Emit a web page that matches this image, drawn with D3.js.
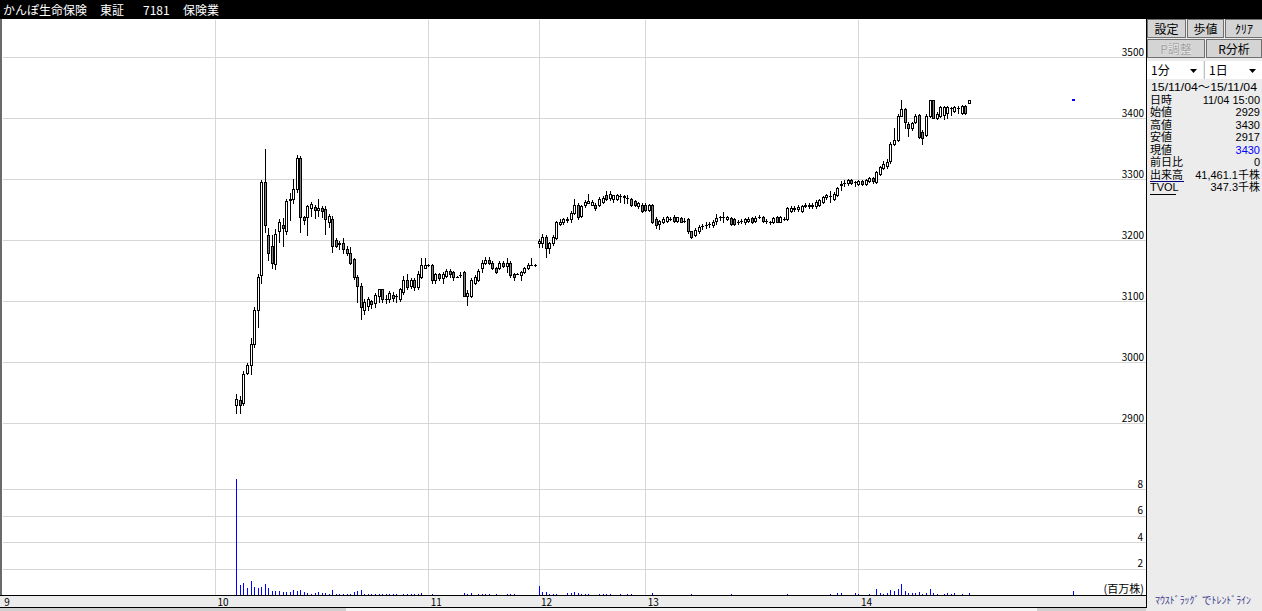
<!DOCTYPE html>
<html><head><meta charset="utf-8">
<script src="https://cdn.jsdelivr.net/npm/d3@7/dist/d3.min.js"></script>
<style>
html,body{margin:0;padding:0;background:#ececec;overflow:hidden;}
svg{display:block;}
text{font-family:"Noto Sans CJK JP","Noto Sans",sans-serif;}
text.info{font-family:"Liberation Sans","Noto Sans CJK JP",sans-serif;}
</style></head><body>
<svg id="c" width="1262" height="611"></svg>
<script>
// ---- data ----
const titleParts = ["かんぽ生命保険", "東証", "7181", "保険業"];
const firstSlot = 66;           // minute slot index counted from 9:00 (lunch break removed)
const opens = [
2929,2938,2932,2982,2995,3030,3085,3142,3295,3209,
3190,3160,3214,3225,3215,3266,3268,3283,3334,3238,
3238,3253,3254,3249,3253,3250,3229,3234,3200,3193,
3195,3186,3178,3169,3139,3125,3085,3091,3100,3096,
3108,3119,3104,3104,3110,3108,3104,3114,3134,3125,
3134,3123,3140,3154,3159,3159,3134,3144,3137,3141,
3149,3148,3140,3143,3148,3109,3109,3130,3134,3154,
3163,3168,3163,3154,3154,3163,3157,3163,3144,3145,
3142,3148,3154,3159,3159,
3195,3195,3205,3187,3195,3203,3226,3229,3232,3234,
3245,3258,3240,3257,3261,3258,3258,3258,3263,3274,
3269,3268,3268,3272,3270,3269,3267,3264,3255,3258,
3258,3249,3257,3235,3226,3230,3231,3235,3238,3231,
3236,3231,3234,3214,3208,3214,3223,3225,
3226,3224,3231,3237,3237,3234,3236,3234,3230,3231,
3229,3231,3236,3231,3238,3238,3231,3230,3230,3238,
3230,3235,3235,3248,3250,3250,3248,3256,3258,3255,
3255,3257,3262,3270,3272,3268,3273,
3290,3293,3293,3298,3295,3292,3297,3292,3297,3302,
3295,3309,3318,3322,3329,3358,3364,3404,3415,3390,
3383,3394,3405,3377,3372,3404,3429,3400,3404,3405,
3408,3416,3412,3417,3408,3420,3425];
const highs = [
2948,2945,2986,2998,3039,3090,3145,3298,3350,3219,
3208,3218,3234,3236,3268,3277,3300,3339,3337,3240,
3258,3262,3258,3268,3256,3255,3242,3240,3204,3198,
3204,3190,3189,3170,3143,3130,3103,3107,3102,3113,
3119,3120,3110,3117,3114,3112,3121,3141,3145,3137,
3137,3150,3170,3170,3160,3161,3146,3146,3147,3152,
3152,3150,3141,3148,3150,3118,3137,3142,3152,3167,
3172,3172,3165,3156,3166,3165,3170,3165,3146,3146,
3150,3156,3162,3170,3160,
3201,3210,3209,3197,3208,3231,3234,3236,3238,3247,
3268,3260,3257,3266,3275,3266,3260,3270,3272,3280,
3280,3274,3276,3275,3273,3274,3269,3266,3262,3260,
3260,3259,3259,3238,3233,3238,3240,3238,3241,3238,
3238,3236,3236,3215,3219,3224,3227,3229,
3230,3232,3242,3240,3246,3240,3238,3236,3233,3234,
3236,3237,3238,3239,3241,3240,3234,3231,3238,3240,
3240,3238,3254,3256,3256,3257,3257,3260,3260,3260,
3265,3267,3272,3276,3280,3278,3287,
3296,3298,3300,3300,3296,3299,3299,3300,3303,3304,
3313,3322,3330,3332,3360,3383,3406,3430,3416,3394,
3393,3406,3406,3380,3406,3430,3430,3410,3420,3420,
3420,3418,3420,3420,3422,3422,3430];
const lows = [
2917,2917,2930,2980,2980,3025,3058,3130,3213,3167,
3154,3153,3197,3190,3210,3232,3260,3279,3213,3226,
3208,3240,3236,3240,3238,3210,3222,3181,3188,3185,
3178,3175,3160,3136,3099,3070,3079,3085,3088,3090,
3098,3098,3096,3098,3100,3099,3100,3112,3120,3122,
3118,3120,3137,3154,3158,3129,3129,3134,3129,3139,
3140,3134,3139,3140,3108,3094,3107,3128,3132,3147,
3161,3160,3152,3146,3152,3155,3147,3140,3134,3144,
3135,3146,3152,3159,3158,
3189,3189,3172,3178,3192,3201,3224,3227,3229,3230,
3242,3235,3238,3254,3260,3257,3249,3256,3261,3266,
3266,3262,3266,3262,3260,3260,3256,3255,3253,3246,
3248,3247,3228,3219,3218,3228,3229,3232,3229,3229,
3229,3230,3212,3203,3206,3212,3218,3219,
3222,3222,3227,3233,3230,3232,3224,3224,3226,3228,
3227,3229,3228,3229,3236,3229,3228,3226,3228,3229,
3229,3232,3233,3246,3248,3248,3246,3254,3252,3253,
3253,3255,3260,3268,3262,3266,3272,
3282,3288,3290,3291,3289,3290,3290,3290,3295,3294,
3293,3307,3316,3318,3327,3356,3362,3403,3383,3370,
3380,3392,3367,3358,3370,3402,3400,3398,3402,3399,
3400,3405,3410,3408,3406,3406,3424];
const closes = [
2940,2929,2981,2995,3030,3085,3140,3295,3225,3178,
3163,3210,3229,3219,3264,3268,3283,3334,3238,3233,
3255,3259,3249,3253,3248,3234,3239,3190,3190,3195,
3185,3178,3163,3139,3125,3090,3099,3104,3095,3110,
3119,3104,3104,3113,3105,3108,3119,3134,3123,3134,
3123,3145,3159,3159,3159,3134,3144,3137,3145,3149,
3144,3139,3140,3143,3109,3113,3134,3140,3149,3163,
3168,3163,3154,3148,3163,3158,3163,3143,3139,3145,
3147,3154,3159,3159,3159,
3199,3205,3187,3195,3205,3230,3230,3234,3235,3245,
3258,3238,3255,3263,3264,3263,3252,3267,3269,3268,
3275,3273,3274,3272,3272,3269,3258,3257,3260,3248,
3249,3257,3230,3225,3231,3235,3238,3235,3231,3238,
3230,3231,3214,3205,3217,3221,3223,3225,
3226,3229,3236,3237,3237,3238,3226,3226,3230,3231,
3234,3235,3230,3236,3238,3231,3231,3230,3236,3230,
3238,3235,3252,3253,3253,3254,3255,3258,3255,3258,
3263,3265,3270,3274,3272,3276,3285,
3292,3293,3298,3293,3295,3297,3292,3298,3301,3296,
3311,3320,3325,3328,3358,3364,3404,3415,3394,3383,
3391,3404,3369,3367,3404,3429,3400,3406,3418,3418,
3418,3416,3418,3417,3420,3408,3430];
// volume in millions of shares
const volumes = [
8.73,0.75,0.91,0.53,1.06,0.60,0.55,0.63,0.83,0.53,
0.30,0.30,0.30,0.23,0.23,0.23,0.38,0.33,0.38,0.20,
0.15,0.10,0.15,0.23,0.15,0.15,0.10,0.38,0.10,0.08,
0.08,0.08,0.08,0.23,0.30,0.38,0.08,0.08,0.08,0.08,
0.08,0.08,0.08,0.08,0.08,0.08,0,0.08,0.08,0.08,
0.08,0.08,0.18,0,0,0.08,0,0,0,0,
0,0,0,0,0.13,0.08,0.13,0,0.08,0.08,
0.08,0.08,0,0.08,0,0,0.08,0.08,0.08,0,
0,0,0,0,0,
0.68,0.23,0.23,0.08,0.08,0.08,0,0,0.18,0.18,
0.23,0.15,0.08,0.08,0.08,0,0,0.08,0.08,0.08,
0.08,0,0,0.08,0,0.08,0.08,0,0,0,
0,0,0.13,0,0,0,0,0,0,0,
0,0,0,0.08,0,0,0,0,
0,0,0,0,0,0,0.08,0,0,0,
0,0,0,0,0,0,0,0,0,0,
0,0,0.08,0,0,0,0,0,0,0,
0,0,0,0,0.08,0,0.15,
0.15,0,0,0,0.15,0.08,0,0,0.08,0,
0.45,0.15,0.08,0.15,0.38,0.33,0.45,0.83,0.33,0.15,
0.15,0.15,0.23,0.08,0.15,0.45,0.15,0.08,0,0.08,
0.15,0.08,0.15,0,0.08,0,0.15];
const closingAuction = {slot: 301, price: 3430, volume: 0.33};
const priceTicks = [2900, 3000, 3100, 3200, 3300, 3400, 3500];
const volumeTicks = [2, 4, 6, 8];
const hourSlots = [0, 60, 120, 151, 181, 241];
const hourLabels = ["9", "10", "11", "12", "13", "14"];
const buttonRow1 = ["設定", "歩値", "ｸﾘｱ"];
const buttonRow2 = ["P調整", "R分析"];
const dropdowns = ["1分", "1日"];
const dateRange = "15/11/04〜15/11/04";
const infoLabels = ["日時", "始値", "高値", "安値", "現値", "前日比", "出来高", "TVOL"];
const infoValues = ["11/04 15:00", "2929", "3430", "2917", "3430", "0", "41,461.1千株", "347.3千株"];
const volumeUnit = "(百万株)";
const hint = "ﾏｳｽﾄﾞﾗｯｸﾞ でﾄﾚﾝﾄﾞﾗｲﾝ";

// ---- scales ----
const x = d3.scaleLinear().domain([0, 301]).range([1.7, 1071.8]);
const yP = d3.scaleLinear().domain([2900, 3500]).range([423, 57]);
const yV = d3.scaleLinear().domain([0, 8]).range([595, 489]);

const svg = d3.select("#c");
// backgrounds
svg.append("rect").attr("x",0).attr("y",0).attr("width",1262).attr("height",611).attr("fill","#ececec");
svg.append("rect").attr("x",0).attr("y",19).attr("width",1146).attr("height",576).attr("fill","#ffffff");
svg.append("rect").attr("x",0).attr("y",19).attr("width",2).attr("height",576).attr("fill","#6a6a6a");
svg.append("rect").attr("x",0).attr("y",0).attr("width",1262).attr("height",19).attr("fill","#000000");

// title
const titleX = [3, 100, 143, 183];
svg.selectAll("text.title").data(titleParts).join("text").attr("class","title")
  .attr("x",(d,i)=>titleX[i]).attr("y",15).attr("fill","#fff").attr("font-size",12).text(d=>d);

const numFont = '"Liberation Sans", Arial, sans-serif';
// price grid + labels
const gP = svg.append("g").attr("transform","translate(1146,0)")
  .call(d3.axisLeft(yP).tickValues(priceTicks).tickSize(1143).tickFormat(d3.format("d")));
gP.select(".domain").remove();
gP.selectAll(".tick line").attr("stroke","#d6d6d6").attr("shape-rendering","crispEdges");
gP.selectAll(".tick text").attr("x",-2).attr("dy",-2).attr("text-anchor","end")
  .attr("font-size",10).attr("font-family",numFont).attr("fill","#000");
// volume grid + labels
const gV = svg.append("g").attr("transform","translate(1146,0)")
  .call(d3.axisLeft(yV).tickValues(volumeTicks).tickSize(1143).tickFormat(d3.format("d")));
gV.select(".domain").remove();
gV.selectAll(".tick line").attr("stroke","#d6d6d6").attr("shape-rendering","crispEdges");
gV.selectAll(".tick text").attr("x",-3).attr("dy",-2).attr("text-anchor","end")
  .attr("font-size",10).attr("font-family",numFont).attr("fill","#000");
// hour grid
const gX = svg.append("g").attr("transform","translate(0,20)")
  .call(d3.axisBottom(x).tickValues(hourSlots).tickSize(575).tickFormat((d,i)=>hourLabels[i]));
gX.select(".domain").remove();
gX.selectAll(".tick line").attr("stroke",(d)=>d===0?"none":"#d6d6d6").attr("shape-rendering","crispEdges");
gX.selectAll(".tick text").attr("y",586).attr("dy",0).attr("x",2).attr("text-anchor","start")
  .attr("font-size",10).attr("font-family",numFont).attr("fill","#000");

// bottom strip
svg.append("line").attr("x1",0).attr("x2",1147).attr("y1",595.5).attr("y2",595.5).attr("stroke","#000");
svg.append("line").attr("x1",0).attr("x2",1147).attr("y1",607.5).attr("y2",607.5).attr("stroke","#000");
svg.append("rect").attr("x",0).attr("y",608).attr("width",1146).attr("height",3).attr("fill","#d0d0d0");
svg.append("rect").attr("x",346).attr("y",608).attr("width",691).attr("height",3).attr("fill","#f4f4f4");
svg.append("line").attr("x1",1146.5).attr("x2",1146.5).attr("y1",19).attr("y2",608).attr("stroke","#000");
gX.raise();

// volume unit
svg.append("text").attr("x",1144).attr("y",593).attr("text-anchor","end").attr("font-size",11).text(volumeUnit);

// candles
const bars = opens.map((o,i)=>({slot:firstSlot+i, o, h:highs[i], l:lows[i], c:closes[i], v:volumes[i]}));
const cg = svg.append("g").attr("shape-rendering","crispEdges");
bars.forEach(b=>{
  const px = Math.round(x(b.slot));
  cg.append("line").attr("x1",px+0.5).attr("x2",px+0.5)
    .attr("y1",Math.round(yP(b.h))).attr("y2",Math.round(yP(b.l))+1).attr("stroke","#000");
  const yo = Math.round(yP(b.o)), yc = Math.round(yP(b.c));
  if (yo === yc) {
    cg.append("line").attr("x1",px-1).attr("x2",px+2).attr("y1",yo+0.5).attr("y2",yo+0.5).attr("stroke","#000");
  } else {
    cg.append("rect").attr("x",px-0.5).attr("y",Math.min(yo,yc)+0.5).attr("width",2)
      .attr("height",Math.abs(yo-yc)).attr("fill",b.c>b.o?"#ffffff":"#808080").attr("stroke","#000");
  }
  if (b.v > 0) {
    const hv = Math.max(1, Math.round(yV(0)-yV(b.v)));
    cg.append("rect").attr("x",px).attr("y",595-hv).attr("width",1).attr("height",hv).attr("fill","#0000ff");
  }
});
// closing auction
{
  const px = Math.round(x(closingAuction.slot));
  cg.append("rect").attr("x",px).attr("y",Math.round(yP(closingAuction.price))-1).attr("width",3).attr("height",2).attr("fill","#0000ff");
  const hv = Math.max(1, Math.round(yV(0)-yV(closingAuction.volume)));
  cg.append("rect").attr("x",px+1).attr("y",595-hv).attr("width",1).attr("height",hv).attr("fill","#0000ff");
}

// ---- right panel ----
const panel = svg.append("g");
const btn1 = [[1147,38],[1187,36],[1225,37]];
buttonRow1.forEach((t,i)=>{
  const [bx,bw]=btn1[i];
  panel.append("rect").attr("x",bx+0.5).attr("y",19.5).attr("width",bw).attr("height",18).attr("fill","#d4d4d4").attr("stroke","#707070");
  panel.append("text").attr("x",bx+bw/2+0.5).attr("y",34).attr("text-anchor","middle").attr("font-size",12).attr("fill","#000").text(t);
});
const btn2 = [[1147,57],[1206,55]];
buttonRow2.forEach((t,i)=>{
  const [bx,bw]=btn2[i];
  panel.append("rect").attr("x",bx+0.5).attr("y",39.5).attr("width",bw).attr("height",18).attr("fill","#d4d4d4").attr("stroke","#707070");
  panel.append("text").attr("x",bx+bw/2+0.5).attr("y",54).attr("text-anchor","middle").attr("font-size",12)
    .attr("fill",i===0?"#a0a0a0":"#000").attr("stroke",i===0?"#ffffff":"none").attr("stroke-width",0.4)
    .attr("paint-order","stroke").text(t);
});
const dd = [[1147,56],[1205,57]];
dropdowns.forEach((t,i)=>{
  const [bx,bw]=dd[i];
  panel.append("rect").attr("x",bx).attr("y",61).attr("width",bw).attr("height",18).attr("fill","#ffffff");
  panel.append("text").attr("x",bx+4).attr("y",75).attr("font-size",12).attr("fill","#000").text(t);
  const ax = bx+bw-10;
  panel.append("path").attr("d",`M${ax-3},69 L${ax+4},69 L${ax+0.5},73 Z`).attr("fill","#000");
});
panel.append("line").attr("x1",1204.5).attr("x2",1204.5).attr("y1",61).attr("y2",79).attr("stroke","#c0c0c0");
panel.append("text").attr("class","info").attr("x",1151).attr("y",91).attr("font-size",11).attr("fill","#000")
  .attr("textLength",106).attr("lengthAdjust","spacingAndGlyphs").text(dateRange);
infoLabels.forEach((t,i)=>{
  const yy = 103.5 + i*12.5;
  panel.append("text").attr("class","info").attr("x",1150).attr("y",yy).attr("font-size",11).attr("fill","#000").text(t);
  panel.append("text").attr("class","info").attr("x",1260).attr("y",yy).attr("text-anchor","end").attr("font-size",11)
    .attr("fill", i===4 ? "#0000ff" : "#000").text(infoValues[i]);
});
panel.append("line").attr("x1",1150).attr("x2",1184).attr("y1",181.5).attr("y2",181.5).attr("stroke","#000080");
panel.append("line").attr("x1",1150).attr("x2",1176).attr("y1",194.5).attr("y2",194.5).attr("stroke","#000");
panel.append("text").attr("x",1155).attr("y",604).attr("font-size",10).attr("fill","#3a3a8c")
  .attr("textLength",96).attr("lengthAdjust","spacingAndGlyphs").text(hint);
</script>
</body></html>
